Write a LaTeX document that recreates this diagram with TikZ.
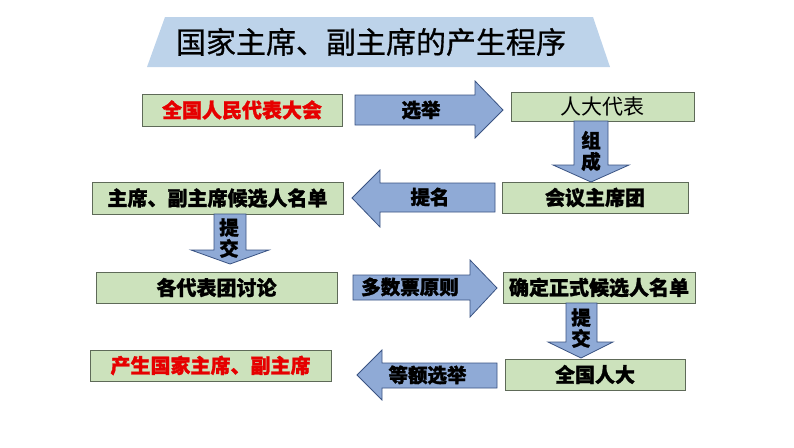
\documentclass[tikz,border=0pt]{standalone}
\usepackage{fontspec}
\setmainfont{Noto Sans CJK SC}[BoldFeatures={FakeBold=1.2}]
\newfontfamily\titlefont{Noto Sans CJK SC}[FakeBold=0.6]

\definecolor{boxfill}{HTML}{CCE2BC}
\definecolor{boxline}{HTML}{5E6A58}
\definecolor{arrfill}{HTML}{8FAAD6}
\definecolor{arrline}{HTML}{3A5382}
\definecolor{titlefill}{HTML}{BDD3EA}
\definecolor{stepred}{HTML}{E60000}

\tikzset{
  stagebox/.style={draw=boxline, line width=1pt, fill=boxfill, inner sep=0pt,
    font=\fontsize{20}{24}\selectfont\bfseries},
  blockarrow/.style={draw=arrline, line width=0.8pt, fill=arrfill, line join=miter},
  arrowlabel/.style={inner sep=0pt, align=center,
    font=\fontsize{19.5}{21}\selectfont\bfseries},
}

\begin{document}
\begin{tikzpicture}[x=1pt,y=-1pt]
  \useasboundingbox (0,0) rectangle (794,447);
  % title banner
  \fill[titlefill] (165,17) -- (593,17) -- (610,67) -- (147,67) -- cycle;
  \node (title) at (371,42) {\titlefont\fontsize{30}{34}\selectfont 国家主席、副主席的产生程序};

  % stages
  \node[stagebox, minimum width=200pt, minimum height=32pt, text=stepred] (npc) at (242,110) {全国人民代表大会};
  \node[stagebox, minimum width=183pt, minimum height=29pt, font=\fontsize{21}{24}\selectfont] (deputies) at (602.5,106.5) {人大代表};
  \node[stagebox, minimum width=186pt, minimum height=31pt] (presidium) at (595,197.5) {会议主席团};
  \node[stagebox, minimum width=251pt, minimum height=32pt] (namelist) at (217.5,198) {主席、副主席候选人名单};
  \node[stagebox, minimum width=241pt, minimum height=31pt] (discuss) at (216.5,287.5) {各代表团讨论};
  \node[stagebox, minimum width=192pt, minimum height=31pt] (official) at (599,287.5) {确定正式候选人名单};
  \node[stagebox, minimum width=180pt, minimum height=31pt] (congress) at (595,374.5) {全国人大};
  \node[stagebox, minimum width=241pt, minimum height=31pt, text=stepred] (result) at (210.5,365.5) {产生国家主席、副主席};

  % block arrows
  \draw[blockarrow] (355,95) -- (475,95) -- (475,81) -- (503,110) -- (475,138) -- (475,125) -- (355,125) -- cycle;
  \node[arrowlabel] (elect) at (421,110) {选举};
  \draw[blockarrow] (574,121) -- (608,121) -- (608,165) -- (629,165) -- (591,182) -- (553,165) -- (574,165) -- cycle;
  \node[arrowlabel] (form) at (591,151) {组\\成};
  \draw[blockarrow] (495,183) -- (380,183) -- (380,170) -- (352,198) -- (380,227) -- (380,212) -- (495,212) -- cycle;
  \node[arrowlabel] (nominate) at (430,197) {提名};
  \draw[blockarrow] (214,214) -- (246,214) -- (246,250) -- (269,250) -- (230,264) -- (191,250) -- (214,250) -- cycle;
  \node[arrowlabel] (submitA) at (229,238) {提\\交};
  \draw[blockarrow] (353,275) -- (470,275) -- (470,260) -- (497,288) -- (470,317) -- (470,300) -- (353,300) -- cycle;
  \node[arrowlabel] (majority) at (410,287) {多数票原则};
  \draw[blockarrow] (566,303) -- (597,303) -- (597,342) -- (613,342) -- (581,358) -- (548,342) -- (566,342) -- cycle;
  \node[arrowlabel] (submitB) at (581,328) {提\\交};
  \draw[blockarrow] (497,363) -- (382,363) -- (382,350) -- (357,375) -- (382,400) -- (382,388) -- (497,388) -- cycle;
  \node[arrowlabel] (equal) at (427.5,375) {等额选举};
\end{tikzpicture}
\end{document}
